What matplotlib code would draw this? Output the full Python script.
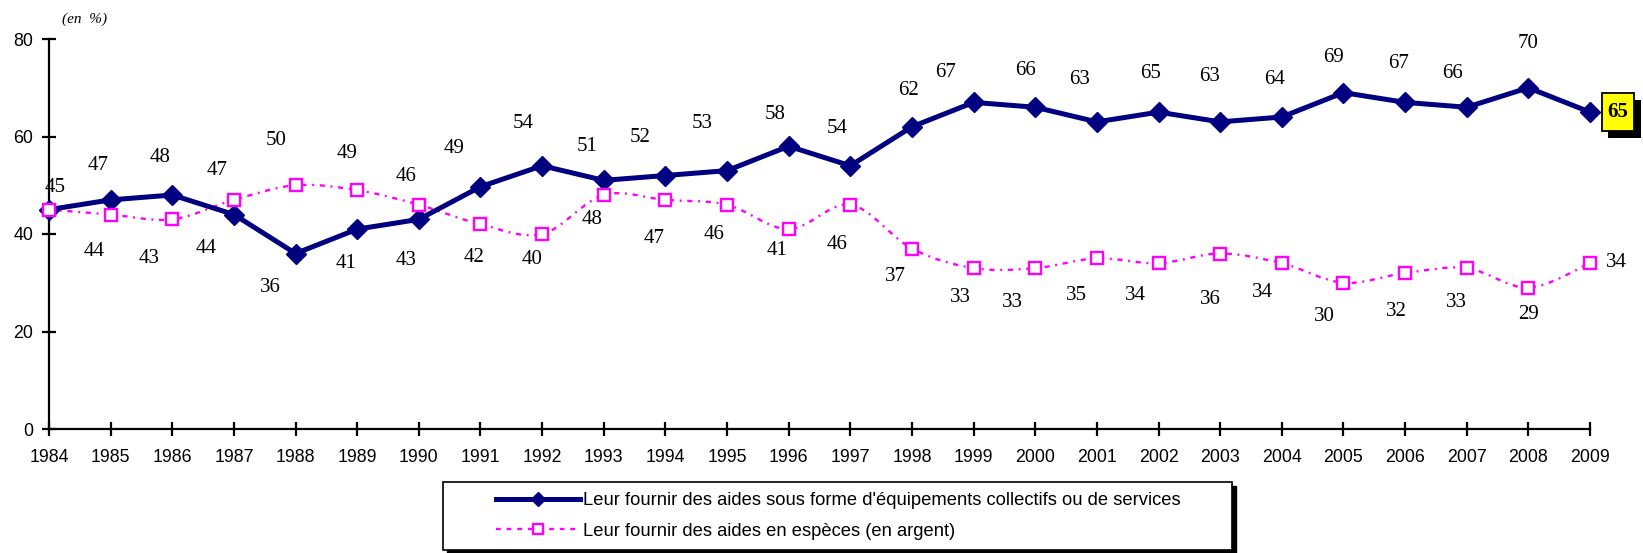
import matplotlib
matplotlib.use("Agg")
import matplotlib.pyplot as plt
from matplotlib.lines import Line2D
from matplotlib.path import Path
from matplotlib.patches import PathPatch, Rectangle
import matplotlib.patheffects as pe

# ---------------- data ----------------
years = list(range(1984, 2010))
equipements = [45, 47, 48, 44, 36, 41, 43, 49.7, 54, 51, 52, 53, 58, 54, 62,
               67, 66, 63, 65, 63, 64, 69, 67, 66, 70, 65]
especes = [45, 44, 43, 47, 50, 49, 46, 42, 40, 48, 47, 46, 41, 46, 37,
           33, 33, 35, 34, 36, 34, 30, 32, 33, 29, 34]
label_equip = "Leur fournir des aides sous forme d'équipements collectifs ou de services"
label_esp = "Leur fournir des aides en espèces (en argent)"
yticks = [0, 20, 40, 60, 80]
unit_text = "(en  %)"

# label offsets in pixels (layout only)
off_equip = [(6, 22), (-13, 34), (-12, 37), (-28, -34), (-25, -34), (-11, -34),
             (-13, -41), (-26, 38), (-19, 42), (-17, 34), (-25, 38), (-25, 47),
             (-14, 32), (-13, 37), (-3, 36), (-28, 30), (-10, 37), (-17, 42),
             (-8, 39), (-11, 45), (-7, 37), (-10, 35), (-7, 39), (-14, 34),
             (0, 44), None]
off_esp = [None, (-17, -37), (-23, -39), (-17, 29), (-19, 45), (-10, 37),
           (-13, 28), (-6, -33), (-10, -26), (-12, -25), (-11, -39), (-13, -30),
           (-12, -21), (-13, -40), (-17, -28), (-13, -29), (-23, -34), (-20, -37),
           (-23, -32), (-10, -46), (-19, -29), (-19, -34), (-9, -38), (-10, -34),
           (0, -27), (26, 1)]

NAVY = "#000080"
MAGENTA = "#FF00FF"
W, H = 1643, 553

fig = plt.figure(figsize=(W / 100, H / 100), dpi=100)
ax = fig.add_axes([49 / W, 1 - 429 / H, (1590 - 49) / W, (429 - 39) / H])
ax.set_xlim(years[0], years[-1])
ax.set_ylim(0, 80)

# navy line
ax.plot(years, equipements, color=NAVY, lw=3.6, marker="D", ms=9.7,
        mec=NAVY, mfc=NAVY, clip_on=False, zorder=4)

# magenta smoothed line (bezier through the data points)
verts = [(years[0], especes[0])]
codes = [Path.MOVETO]
n = len(years)
for i in range(n - 1):
    p0 = (years[max(i - 1, 0)], especes[max(i - 1, 0)])
    p1 = (years[i], especes[i])
    p2 = (years[i + 1], especes[i + 1])
    p3 = (years[min(i + 2, n - 1)], especes[min(i + 2, n - 1)])
    c1 = (p1[0] + (p2[0] - p0[0]) / 6, p1[1] + (p2[1] - p0[1]) / 6)
    c2 = (p2[0] - (p3[0] - p1[0]) / 6, p2[1] - (p3[1] - p1[1]) / 6)
    verts += [c1, c2, p2]
    codes += [Path.CURVE4] * 3
dash = (0, (2.2, 2.4, 0.8, 2.4))
patch = PathPatch(Path(verts, codes), facecolor="none", edgecolor=MAGENTA,
                  lw=1.7, linestyle=dash, clip_on=False, zorder=3)
ax.add_patch(patch)
ax.plot(years, especes, linestyle="none", marker="s", ms=9.1, mew=1.7,
        mec=MAGENTA, mfc="white", clip_on=False, zorder=5)

# data labels
lab_font = dict(family="Liberation Serif", size=15, color="black")
for x, v, off in zip(years, equipements, off_equip):
    if off is None:
        continue
    ax.annotate(f"{int(v)}", (x, v), xytext=off, textcoords="offset pixels",
                ha="center", va="center", annotation_clip=False, **lab_font)
for x, v, off in zip(years, especes, off_esp):
    if off is None:
        continue
    ax.annotate(f"{int(v)}", (x, v), xytext=off, textcoords="offset pixels",
                ha="center", va="center", annotation_clip=False, **lab_font)


def tall_box(x0, y0, width, height, mutation_size):
    px = 0.28 * mutation_size
    py = 0.42 * mutation_size
    xa, xb = x0 - px, x0 + width + px
    ya, yb = y0 - py, y0 + height + py
    return Path([(xa, ya), (xb, ya), (xb, yb), (xa, yb), (xa, ya)],
                [Path.MOVETO, Path.LINETO, Path.LINETO, Path.LINETO, Path.CLOSEPOLY])


# highlighted last value
last_x, last_v = years[-1], equipements[-1]
hl = ax.annotate(f"{int(last_v)}", (last_x, last_v), xytext=(28, 0),
                 textcoords="offset pixels", ha="center", va="center",
                 annotation_clip=False, family="Liberation Serif", size=15,
                 weight="bold", color="black", zorder=7,
                 bbox=dict(boxstyle=tall_box, fc="#FFFF00", ec="black", lw=1.3))
hl.get_bbox_patch().set_path_effects(
    [pe.SimplePatchShadow(offset=(4.7, -4.8), shadow_rgbFace="black", alpha=1.0),
     pe.Normal()])

# axes styling
for s in ["top", "right"]:
    ax.spines[s].set_visible(False)
for s in ["left", "bottom"]:
    ax.spines[s].set_linewidth(1.6)
ax.set_xticks(years)
ax.set_xticklabels([str(y) for y in years])
ax.set_yticks(yticks)
ax.tick_params(axis="both", direction="inout", length=9.5, width=1.6,
               labelsize=12.8, colors="black")
ax.tick_params(axis="x", pad=10)
ax.tick_params(axis="y", pad=6.5)
for lab in ax.get_xticklabels() + ax.get_yticklabels():
    lab.set_family("Liberation Sans")

fig.text(85 / W, 1 - 19 / H, unit_text, ha="center", va="center",
         family="Liberation Serif", style="italic", size=11)

# legend box with shadow
lx0, lx1, ly0, ly1 = 443, 1232, 482, 550
fig.patches.append(Rectangle(((lx0 + 4) / W, 1 - (ly1 + 4) / H), (lx1 - lx0) / W,
                             (ly1 - ly0) / H, transform=fig.transFigure,
                             fc="black", ec="black", lw=1, zorder=1))
fig.patches.append(Rectangle((lx0 / W, 1 - ly1 / H), (lx1 - lx0) / W,
                             (ly1 - ly0) / H, transform=fig.transFigure,
                             fc="white", ec="black", lw=1.2, zorder=2))
h1 = Line2D([], [], color=NAVY, lw=3.6, marker="D", ms=7, mec=NAVY, mfc=NAVY)
h2 = Line2D([], [], color=MAGENTA, lw=1.7, linestyle=(0, (2, 2.5)), marker="s",
            ms=7, mew=1.7, mec=MAGENTA, mfc="white")
leg = fig.legend([h1, h2], [label_equip, label_esp], loc="center",
                 bbox_to_anchor=(838 / W, 1 - 516 / H),
                 bbox_transform=fig.transFigure, frameon=False, numpoints=1,
                 handlelength=4.6, handletextpad=0.15, labelspacing=0.72,
                 prop=dict(family="Liberation Sans", size=13.2))
leg.set_zorder(3)

fig.savefig("out.png", dpi=100)
